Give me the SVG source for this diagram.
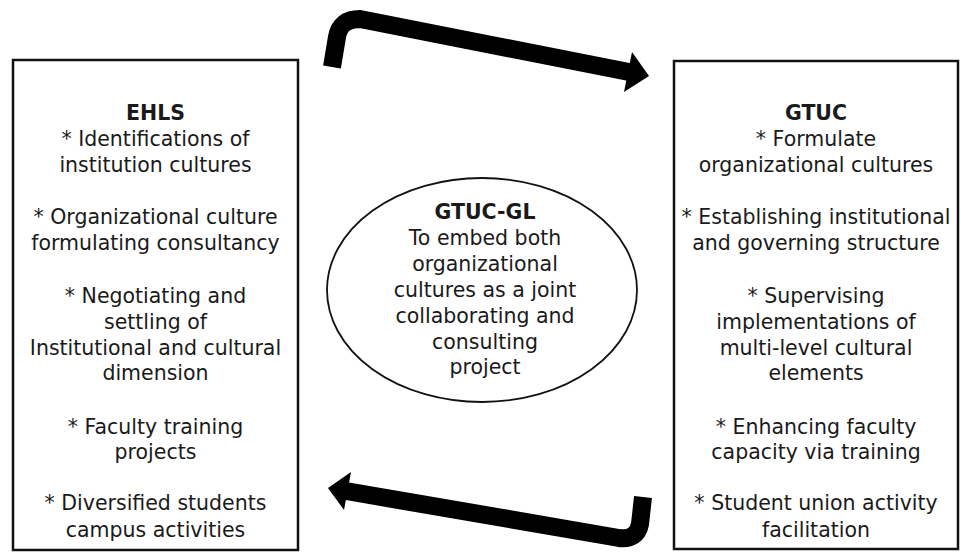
<svg xmlns="http://www.w3.org/2000/svg" width="961" height="554" viewBox="0 0 961 554">
<style>
.box{fill:#fff;stroke:#111;stroke-width:2.5}
.t{font-family:"DejaVu Sans","Liberation Sans",sans-serif;font-size:20.5px;fill:#1a1a1a;text-anchor:middle}
.b{font-weight:bold}
.shaft{fill:none;stroke:#000;stroke-width:18;stroke-linejoin:round}
.head{fill:#000}
</style>
<rect width="961" height="554" fill="#fff"/>
<g id="connectors">
<path class="shaft" d="M332 67 L337 37 Q340 19 360 19 L629 72"/>
<polygon class="head" points="632,52 649,76 624,92"/>
<path class="shaft" d="M643 497 L640 524 Q637 540 619 538 L346 491"/>
<polygon class="head" points="351,472 328,488 344,510"/>
</g>
<g id="ehls">
<rect class="box" x="13" y="60" width="285" height="490"/>
<text class="t b" x="155.5" y="120">EHLS</text>
<text class="t" x="155.5" y="146">* Identifications of</text>
<text class="t" x="155.5" y="172">institution cultures</text>
<text class="t" x="155.5" y="224">* Organizational culture</text>
<text class="t" x="155.5" y="250">formulating consultancy</text>
<text class="t" x="155.5" y="303">* Negotiating and</text>
<text class="t" x="155.5" y="329">settling of</text>
<text class="t" x="155.5" y="355">Institutional and cultural</text>
<text class="t" x="155.5" y="380">dimension</text>
<text class="t" x="155.5" y="434">* Faculty training</text>
<text class="t" x="155.5" y="459">projects</text>
<text class="t" x="155.5" y="510">* Diversified students</text>
<text class="t" x="155.5" y="537">campus activities</text>
</g>
<g id="gtuc">
<rect class="box" x="674" y="61" width="284" height="488"/>
<text class="t b" x="816" y="120">GTUC</text>
<text class="t" x="816" y="146">* Formulate</text>
<text class="t" x="816" y="172">organizational cultures</text>
<text class="t" x="816" y="224">* Establishing institutional</text>
<text class="t" x="816" y="250">and governing structure</text>
<text class="t" x="816" y="303">* Supervising</text>
<text class="t" x="816" y="329">implementations of</text>
<text class="t" x="816" y="355">multi-level cultural</text>
<text class="t" x="816" y="380">elements</text>
<text class="t" x="816" y="434">* Enhancing faculty</text>
<text class="t" x="816" y="459">capacity via training</text>
<text class="t" x="816" y="510">*  Student union activity</text>
<text class="t" x="816" y="537">facilitation</text>
</g>
<g id="gtuc-gl">
<ellipse cx="482" cy="290" rx="155" ry="112" fill="#fff" stroke="#111" stroke-width="1.8"/>
<text class="t b" x="485" y="219">GTUC-GL</text>
<text class="t" x="485" y="245">To embed both</text>
<text class="t" x="485" y="271">organizational</text>
<text class="t" x="485" y="297">cultures as a joint</text>
<text class="t" x="485" y="323">collaborating and</text>
<text class="t" x="485" y="349">consulting</text>
<text class="t" x="485" y="374">project</text>
</g>
</svg>
